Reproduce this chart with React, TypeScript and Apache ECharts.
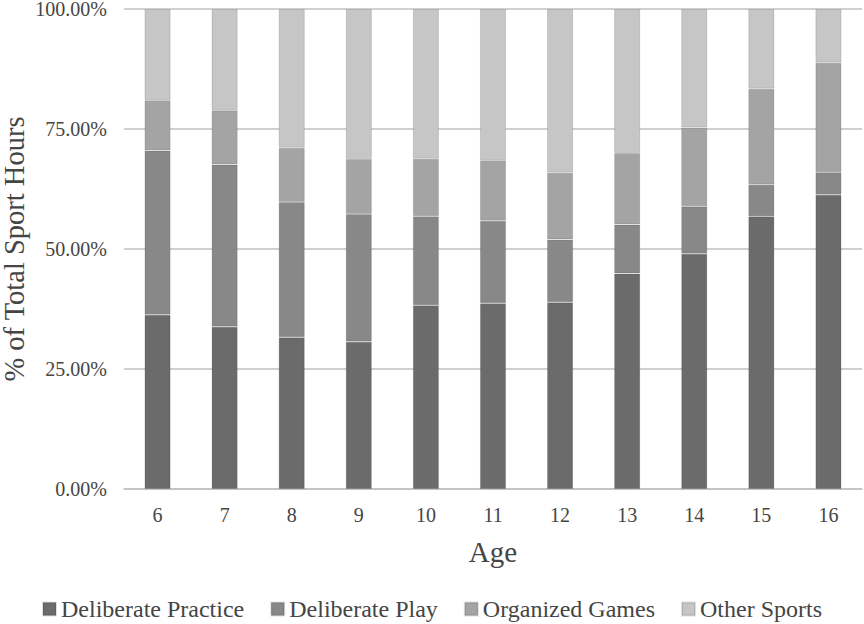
import React, { useEffect, useRef } from "react";
import * as echarts from "echarts";

const ages = ["6", "7", "8", "9", "10", "11", "12", "13", "14", "15", "16"];
const deliberatePractice = [36.3, 33.8, 31.6, 30.7, 38.3, 38.7, 38.9, 44.9, 49.0, 56.8, 61.3];
const deliberatePlay = [34.2, 33.8, 28.2, 26.6, 18.5, 17.2, 13.1, 10.2, 9.9, 6.6, 4.7];
const organizedGames = [10.5, 11.3, 11.3, 11.45, 12.0, 12.6, 13.9, 14.9, 16.4, 20.0, 22.8];
const otherSports = [19.0, 21.1, 28.9, 31.25, 31.2, 31.5, 34.1, 30.0, 24.7, 16.6, 11.2];
const yTicks = [0, 25, 50, 75, 100];

const FONT = "'Liberation Serif', 'Times New Roman', serif";
const TEXT = "#454545";

export default function App() {
  const ref = useRef<HTMLDivElement>(null);
  useEffect(() => {
    if (!ref.current) return;
    const chart = echarts.init(ref.current, null, { renderer: "svg" });
    const mk = (name: string, data: number[], color: string) => ({
      name,
      type: "bar",
      stack: "total",
      data,
      barWidth: "39%",
      itemStyle: { color, borderColor: "rgba(0,0,0,0.12)", borderWidth: 1 },
    });
    chart.setOption({
      animation: false,
      textStyle: { fontFamily: FONT },
      grid: { left: 124, right: 2, top: 9, bottom: 135, outerBoundsMode: "none", containLabel: false },
      legend: {
        top: 592,
        left: "center",
        itemWidth: 13,
        itemHeight: 13,
        itemGap: 26,
        icon: "rect",
        textStyle: { fontFamily: FONT, fontSize: 24, color: TEXT },
        data: ["Deliberate Practice", "Deliberate Play", "Organized Games", "Other Sports"],
      },
      xAxis: {
        type: "category",
        data: ages,
        name: "Age",
        nameLocation: "middle",
        nameGap: 48,
        nameMoveOverlap: false,
        nameTextStyle: { fontFamily: FONT, fontSize: 29, color: TEXT },
        axisLine: { show: true, lineStyle: { color: "#c0c0c0", width: 1.5 } },
        axisTick: { show: false },
        axisLabel: { fontFamily: FONT, fontSize: 20, color: TEXT, margin: 16 },
      },
      yAxis: {
        type: "value",
        min: yTicks[0],
        max: yTicks[yTicks.length - 1],
        interval: 25,
        name: "% of Total Sport Hours",
        nameLocation: "middle",
        nameGap: 95,
        nameMoveOverlap: false,
        nameTextStyle: { fontFamily: FONT, fontSize: 28.5, color: TEXT },
        axisLine: { show: false },
        axisTick: { show: false },
        splitLine: { lineStyle: { color: "#c0c0c0", width: 1.5 } },
        axisLabel: {
          fontFamily: FONT,
          fontSize: 20,
          color: TEXT,
          margin: 17,
          formatter: (v: number) => v.toFixed(2) + "%",
        },
      },
      series: [
        mk("Deliberate Practice", deliberatePractice, "#6b6b6b"),
        mk("Deliberate Play", deliberatePlay, "#888888"),
        mk("Organized Games", organizedGames, "#a4a4a4"),
        mk("Other Sports", otherSports, "#c6c6c6"),
      ],
    });
    return () => chart.dispose();
  }, []);
  return <div ref={ref} style={{ width: 864, height: 624, position: "absolute", left: 0, top: 0 }} />;
}
